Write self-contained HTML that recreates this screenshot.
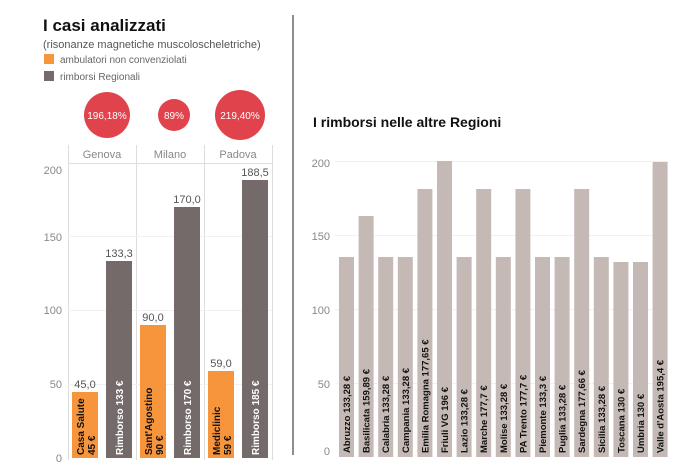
<!DOCTYPE html>
<html><head><meta charset="utf-8"><style>
html,body{margin:0;padding:0;background:#fff;}
svg{display:block;font-family:"Liberation Sans",sans-serif;}
</style></head><body>
<svg width="699" height="475" viewBox="0 0 699 475" xmlns="http://www.w3.org/2000/svg">
<rect width="699" height="475" fill="#fff"/>
<!-- Left title -->
<text x="43" y="31" font-size="17" font-weight="bold" fill="#111">I casi analizzati</text>
<text x="43" y="48" font-size="11" fill="#555">(risonanze magnetiche muscoloscheletriche)</text>
<rect x="44" y="54" width="10" height="10" fill="#f7953c"/>
<text x="60" y="63" font-size="10" fill="#666">ambulatori non convenziolati</text>
<rect x="44" y="71" width="10" height="10" fill="#736a69"/>
<text x="60" y="80" font-size="10" fill="#666">rimborsi Regionali</text>
<!-- circles -->
<circle cx="107" cy="115" r="23" fill="#e0434b"/>
<text x="107" y="119" font-size="10" fill="#fff" text-anchor="middle">196,18%</text>
<circle cx="174" cy="115" r="16" fill="#e0434b"/>
<text x="174" y="119" font-size="10" fill="#fff" text-anchor="middle">89%</text>
<circle cx="240" cy="115" r="25" fill="#e0434b"/>
<text x="240" y="119" font-size="10" fill="#fff" text-anchor="middle">219,40%</text>
<!-- left panel grid -->
<g stroke="#ddd" stroke-width="1">
<line x1="68.5" y1="145" x2="68.5" y2="460"/>
<line x1="136.5" y1="145" x2="136.5" y2="460"/>
<line x1="204.5" y1="145" x2="204.5" y2="460"/>
<line x1="272.5" y1="145" x2="272.5" y2="460"/>
<line x1="68" y1="163.5" x2="273" y2="163.5"/>
</g>
<g stroke="#f1f1f1"><line x1="68" y1="236.5" x2="272" y2="236.5"/><line x1="68" y1="310.5" x2="272" y2="310.5"/><line x1="68" y1="384.5" x2="272" y2="384.5"/></g>
<g font-size="11" fill="#888" text-anchor="middle">
<text x="102" y="158">Genova</text><text x="170" y="158">Milano</text><text x="238" y="158">Padova</text>
</g>
<g font-size="11" fill="#888" text-anchor="end">
<text x="62" y="174">200</text><text x="62" y="241">150</text><text x="62" y="314">100</text><text x="62" y="388">50</text><text x="62" y="462">0</text>
</g>
<!-- left bars -->
<rect x="72" y="392" width="26" height="66" fill="#f7953c"/>
<rect x="106" y="261" width="26" height="197" fill="#736a69"/>
<rect x="140" y="325" width="26" height="133" fill="#f7953c"/>
<rect x="174" y="207" width="26" height="251" fill="#736a69"/>
<rect x="208" y="371" width="26" height="87" fill="#f7953c"/>
<rect x="242" y="180" width="26" height="278" fill="#736a69"/>
<g font-size="11" fill="#555" text-anchor="middle">
<text x="85" y="388">45,0</text><text x="119" y="257">133,3</text>
<text x="153" y="321">90,0</text><text x="187" y="203">170,0</text>
<text x="221" y="367">59,0</text><text x="255" y="176">188,5</text>
</g>
<g font-size="10" font-weight="bold">
<text transform="translate(84,455) rotate(-90)" fill="#111">Casa Salute</text>
<text transform="translate(95,455) rotate(-90)" fill="#111">45 €</text>
<text transform="translate(123,455) rotate(-90)" fill="#fff">Rimborso 133 €</text>
<text transform="translate(152,455) rotate(-90)" fill="#111">Sant'Agostino</text>
<text transform="translate(163,455) rotate(-90)" fill="#111">90 €</text>
<text transform="translate(191,455) rotate(-90)" fill="#fff">Rimborso 170 €</text>
<text transform="translate(220,455) rotate(-90)" fill="#111">Mediclinic</text>
<text transform="translate(231,455) rotate(-90)" fill="#111">59 €</text>
<text transform="translate(259,455) rotate(-90)" fill="#fff">Rimborso 185 €</text>
</g>
<!-- divider -->
<line x1="293" y1="15" x2="293" y2="455" stroke="#444" stroke-width="1.2"/>
<!-- right chart -->
<text x="313" y="127" font-size="14" font-weight="bold" fill="#111">I rimborsi nelle altre Regioni</text>
<g stroke="#f1f1f1"><line x1="335" y1="161.5" x2="668" y2="161.5"/><line x1="335" y1="235.5" x2="668" y2="235.5"/><line x1="335" y1="309.5" x2="668" y2="309.5"/><line x1="335" y1="383.5" x2="668" y2="383.5"/></g>
<g font-size="11" fill="#888" text-anchor="end">
<text x="330" y="167">200</text><text x="330" y="240">150</text><text x="330" y="314">100</text><text x="330" y="388">50</text><text x="330" y="455">0</text>
</g>
<g fill="#c5b9b5">
<rect x="339" y="257" width="15" height="200"/>
<rect x="358.6" y="216" width="15" height="241"/>
<rect x="378.2" y="257" width="15" height="200"/>
<rect x="397.8" y="257" width="15" height="200"/>
<rect x="417.4" y="189" width="15" height="268"/>
<rect x="437" y="161" width="15" height="296"/>
<rect x="456.6" y="257" width="15" height="200"/>
<rect x="476.2" y="189" width="15" height="268"/>
<rect x="495.8" y="257" width="15" height="200"/>
<rect x="515.4" y="189" width="15" height="268"/>
<rect x="535" y="257" width="15" height="200"/>
<rect x="554.6" y="257" width="15" height="200"/>
<rect x="574.2" y="189" width="15" height="268"/>
<rect x="593.8" y="257" width="15" height="200"/>
<rect x="613.4" y="262" width="15" height="195"/>
<rect x="633" y="262" width="15" height="195"/>
<rect x="652.6" y="162" width="15" height="295"/>
</g>
<g font-size="9.5" font-weight="bold" fill="#111">
<text transform="translate(350,453) rotate(-90)">Abruzzo 133,28 €</text>
<text transform="translate(369.6,453) rotate(-90)">Basilicata 159,89 €</text>
<text transform="translate(389.2,453) rotate(-90)">Calabria 133,28 €</text>
<text transform="translate(408.8,453) rotate(-90)">Campania 133,28 €</text>
<text transform="translate(428.4,453) rotate(-90)">Emilia Romagna 177,65 €</text>
<text transform="translate(448,453) rotate(-90)">Friuli VG 196 €</text>
<text transform="translate(467.6,453) rotate(-90)">Lazio 133,28 €</text>
<text transform="translate(487.2,453) rotate(-90)">Marche 177,7 €</text>
<text transform="translate(506.8,453) rotate(-90)">Molise 133,28 €</text>
<text transform="translate(526.4,453) rotate(-90)">PA Trento 177,7 €</text>
<text transform="translate(546,453) rotate(-90)">Piemonte 133,3 €</text>
<text transform="translate(565.6,453) rotate(-90)">Puglia 133,28 €</text>
<text transform="translate(585.2,453) rotate(-90)">Sardegna 177,66 €</text>
<text transform="translate(604.8,453) rotate(-90)">Sicilia 133,28 €</text>
<text transform="translate(624.4,453) rotate(-90)">Toscana 130 €</text>
<text transform="translate(644,453) rotate(-90)">Umbria 130 €</text>
<text transform="translate(663.6,453) rotate(-90)">Valle d'Aosta 195,4 €</text>
</g>
</svg>
</body></html>
